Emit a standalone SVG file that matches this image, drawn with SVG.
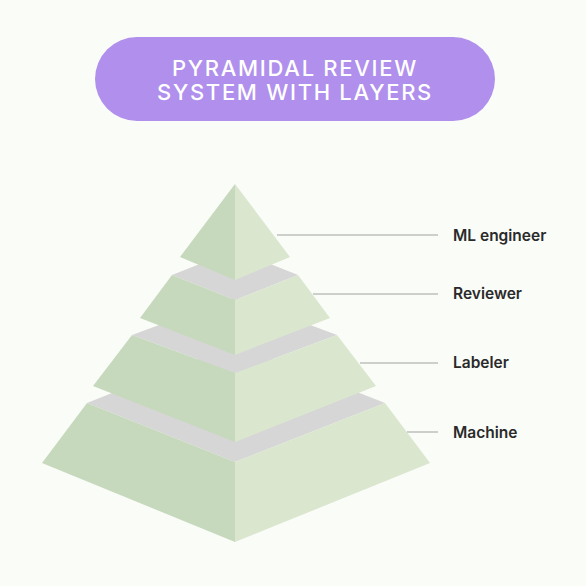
<svg xmlns="http://www.w3.org/2000/svg" width="586" height="586" viewBox="0 0 586 586">
<style>
.l{fill:#C6D9BC}
.r{fill:#DAE6CE}
.g{fill:#D6D6D6}
.lead{stroke:#CDCFCB;stroke-width:2;fill:none}
.lbl{font-family:Inter,"Noto Sans",sans-serif;font-size:15.5px;font-weight:600;fill:#2A2A2A}
.ttl{font-family:Inter,"Noto Sans",sans-serif;font-size:22px;font-weight:500;fill:#FFFFFF;letter-spacing:1.7px;text-anchor:middle}
</style>
<rect width="586" height="586" fill="#FAFCF8"/>
<g id="title">
<rect x="95" y="37" width="400" height="84" rx="42" fill="#B090EC"/>
<text class="ttl" x="295" y="76">PYRAMIDAL REVIEW</text>
<text class="ttl" x="295" y="99.5">SYSTEM WITH LAYERS</text>
</g>
<g id="connectors">
<line class="lead" x1="277" y1="235" x2="438" y2="235"/>
<line class="lead" x1="313" y1="294" x2="438" y2="294"/>
<line class="lead" x1="360" y1="363" x2="438" y2="363"/>
<line class="lead" x1="407" y1="432" x2="438" y2="432"/>
</g>
<g id="tier-machine">
<polygon class="g" points="87,403 235,344 385,403 235,462"/>
<polygon class="l" points="87,403 235,462 235,542 42,463"/>
<polygon class="r" points="235,462 385,403 430,463 235,542"/>
</g>
<g id="tier-labeler">
<polygon class="g" points="132,335 235,297 337,335 235,373"/>
<polygon class="l" points="132,335 235,373 235,442 93,386"/>
<polygon class="r" points="235,373 337,335 376,386 235,442"/>
</g>
<g id="tier-reviewer">
<polygon class="g" points="172,275 235,250 298,275 235,300"/>
<polygon class="l" points="172,275 235,300 235,355 140,318"/>
<polygon class="r" points="235,300 298,275 330,318 235,355"/>
</g>
<g id="tier-ml-engineer">
<polygon class="l" points="235,184 235,280 180,257"/>
<polygon class="r" points="235,184 290,257 235,280"/>
</g>
<g id="labels">
<text class="lbl" x="453" y="241">ML engineer</text>
<text class="lbl" x="453" y="299">Reviewer</text>
<text class="lbl" x="453" y="368">Labeler</text>
<text class="lbl" x="453" y="438">Machine</text>
</g>
</svg>
